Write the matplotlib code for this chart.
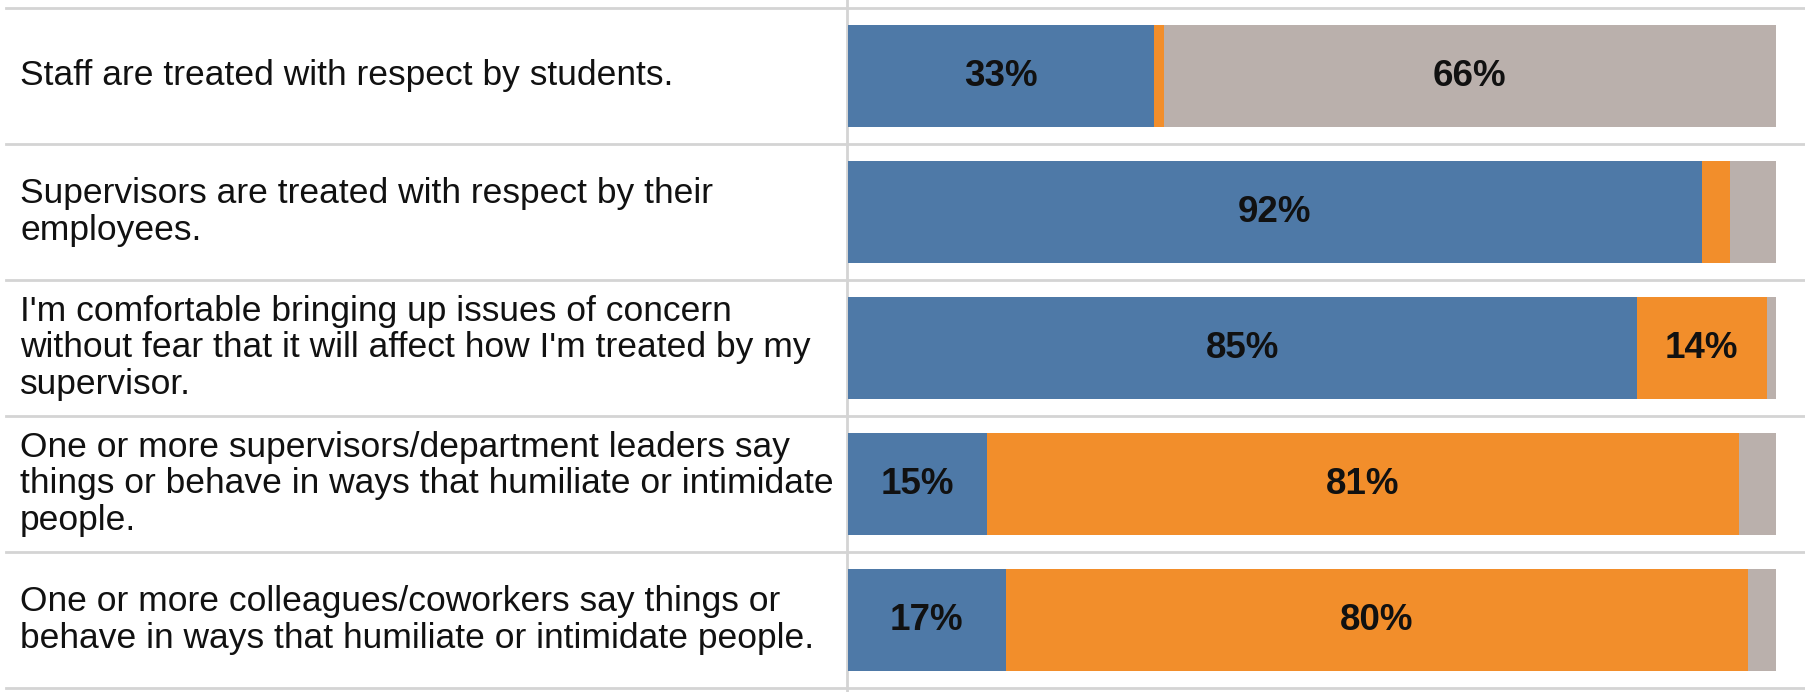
import matplotlib
matplotlib.use("Agg")
import matplotlib.pyplot as plt
from matplotlib.transforms import blended_transform_factory

statements = [
    "Staff are treated with respect by students.",
    "Supervisors are treated with respect by their\nemployees.",
    "I'm comfortable bringing up issues of concern\nwithout fear that it will affect how I'm treated by my\nsupervisor.",
    "One or more supervisors/department leaders say\nthings or behave in ways that humiliate or intimidate\npeople.",
    "One or more colleagues/coworkers say things or\nbehave in ways that humiliate or intimidate people.",
]
agree = [33, 92, 85, 15, 17]
disagree = [1, 3, 14, 81, 80]
no_answer = [66, 5, 1, 4, 3]

series = [agree, disagree, no_answer]
colors = ["#4e79a7", "#f28e2b", "#bab0ac"]

W, H = 1806, 692
fig = plt.figure(figsize=(W / 100, H / 100), dpi=100)
plt.rcParams["font.family"] = ["Liberation Sans", "DejaVu Sans"]

x0, x1 = 848, 1776          # pixel span of 0..100 %
top, row_h = 8, 136         # first separator and row height in pixels
ax = fig.add_axes([x0 / W, 0, (x1 - x0) / W, 1])
ax.set_xlim(0, 100)
n = len(statements)
ax.set_ylim(n - 0.5 + (H - top - n * row_h) / row_h, -0.5 - top / row_h)
ax.axis("off")

grid = "#d4d4d4"
# row separators across the whole width
for k in range(n + 1):
    ax.axhline(k - 0.5, xmin=-x0 / (x1 - x0) + 6 / (x1 - x0), xmax=(W - x0) / (x1 - x0),
               color=grid, lw=2, clip_on=False, zorder=0)
# divider between the statements and the bars
ax.axvline(-0.1, ymin=0, ymax=1, color=grid, lw=2, clip_on=False, zorder=0)

ypos = list(range(n))
left = [0] * n
for vals, c in zip(series, colors):
    ax.barh(ypos, vals, left=left, height=0.75, color=c, edgecolor="none", zorder=2)
    for i, v in enumerate(vals):
        if v >= 10:
            ax.text(left[i] + v / 2, i, f"{v}%", ha="center", va="center",
                    fontsize=26.5, fontweight="bold", color="#111111", zorder=3)
    left = [l + v for l, v in zip(left, vals)]

tr = blended_transform_factory(fig.transFigure, ax.transData)
for i, s in enumerate(statements):
    ax.text(20 / W, i, s, transform=tr, ha="left", va="center",
            fontsize=25.5, color="#111111", linespacing=1.15)

fig.savefig("out.png", dpi=100)
